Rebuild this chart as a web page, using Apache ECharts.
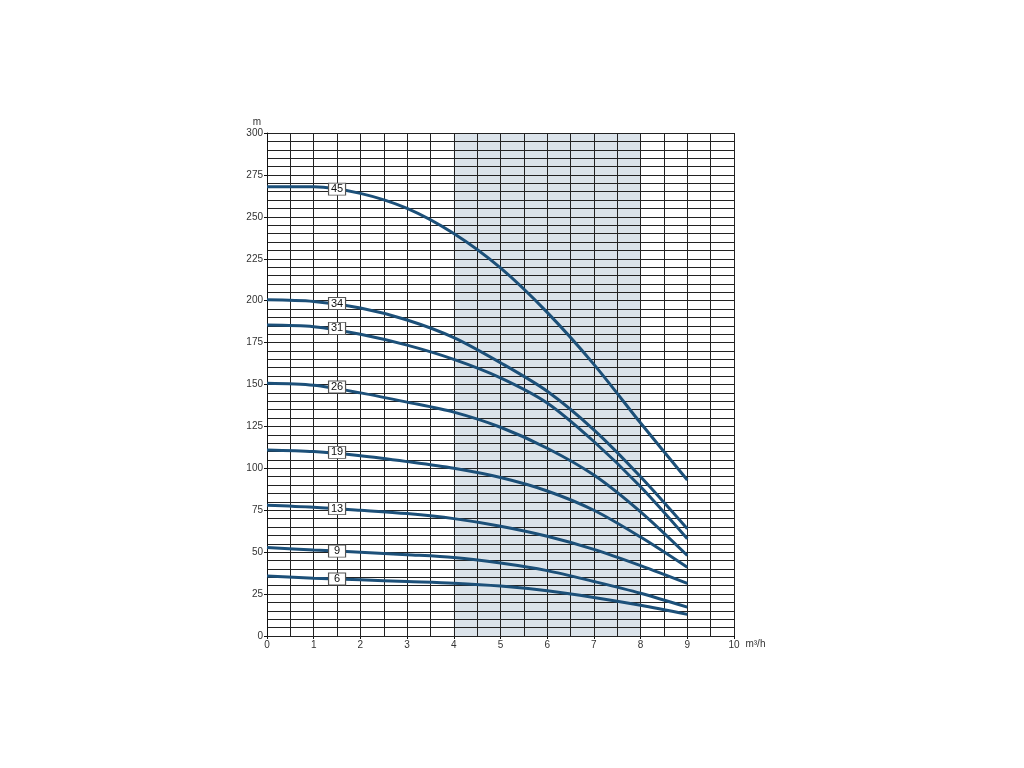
<!DOCTYPE html>
<html>
<head>
<meta charset="utf-8">
<script src="https://cdn.jsdelivr.net/npm/echarts@6/dist/echarts.min.js"></script>
<style>html,body{margin:0;padding:0;background:#fff}#c{width:1024px;height:768px}</style>
</head>
<body>
<div id="c"></div>
<script>
// flow (m³/h)
const flows = [0, 1, 2, 3, 4, 5, 6, 7, 8, 9];
// head (m) for each curve (stage count)
const names = ['45', '34', '31', '26', '19', '13', '9', '6'];
const c45 = [268, 268, 264, 255, 240, 219.5, 193, 162, 127, 93];
const c34 = [200.5, 199.5, 195.6, 188.5, 178, 163, 146, 123, 95, 64];
const c31 = [185.5, 184.5, 180, 173.5, 165, 154, 139, 116, 89, 58];
const c26 = [150.7, 149.5, 145, 139.5, 133.5, 124.5, 112, 96, 74, 48];
const c19 = [111, 110, 107.5, 104, 100, 94.5, 86.5, 75, 59, 41];
const c13 = [78, 76.8, 75, 73, 70, 65.5, 59.5, 51.7, 42, 31.4];
const c9 = [52.8, 51.3, 50, 48.5, 46.8, 43.5, 39, 32.5, 25.5, 17.2];
const c6 = [35.8, 34.5, 33.5, 32.5, 31.5, 29.8, 27, 23, 18.3, 12.9];
const curves = [c45, c34, c31, c26, c19, c13, c9, c6];
// label boxes: flow position and head
const labelFlow = 1.5;
const labelHead = [266.5, 198.3, 183.5, 148.5, 109.5, 76, 50.6, 34];
const xTicks = ['0','1','2','3','4','5','6','7','8','9','10'];
const yTicks = ['0','25','50','75','100','125','150','175','200','225','250','275','300'];
const bandStart = 4, bandEnd = 8;

const band = '#dbe3ea';
const areaColors = [];
for (let i = 0; i < 10; i++) areaColors.push(i >= bandStart && i < bandEnd ? band : 'rgba(0,0,0,0)');

const font = 'Liberation Sans Narrow, Liberation Sans, sans-serif';
const lineCol = '#1c5079';

const series = curves.map((arr, k) => ({
  type: 'line',
  name: names[k],
  data: flows.map((x, i) => [x, arr[i]]),
  smooth: 0.3,
  showSymbol: false,
  symbol: 'none',
  lineStyle: { color: lineCol, width: 3 },
  z: 3,
  markPoint: {
    symbol: 'rect',
    symbolSize: [17, 12],
    itemStyle: { color: '#fff', borderColor: '#555', borderWidth: 1 },
    label: { show: true, formatter: names[k], color: '#111', fontSize: 11, fontFamily: font, position: 'inside' },
    data: [{ coord: [labelFlow, labelHead[k]] }],
    animation: false
  }
}));

const chart = echarts.init(document.getElementById('c'));
chart.setOption({
  animation: false,
  backgroundColor: '#fff',
  grid: { left: 267, top: 133, width: 467, height: 503, containLabel: false },
  xAxis: {
    type: 'value', min: 0, max: 10, interval: 1, z: 0,
    name: 'm³/h', nameLocation: 'end', nameGap: 8,
    nameTextStyle: { color: '#333', fontSize: 10, fontFamily: font, verticalAlign: 'top', padding: [3, 0, 0, 0] },
    axisLine: { show: true, lineStyle: { color: '#111', width: 1 } },
    axisTick: { show: true, length: 3, lineStyle: { color: '#111' } },
    axisLabel: { color: '#333', fontSize: 10, fontFamily: font, margin: 4, formatter: (v) => xTicks[Math.round(v)] },
    splitLine: { show: true, lineStyle: { color: '#222', width: 1 } },
    minorTick: { show: false, splitNumber: 2 },
    minorSplitLine: { show: true, lineStyle: { color: '#222', width: 1 } },
    splitArea: { show: true, areaStyle: { color: areaColors } }
  },
  yAxis: {
    type: 'value', min: 0, max: 300, interval: 25, z: 1,
    name: 'm', nameLocation: 'end', nameGap: 6,
    nameTextStyle: { color: '#333', fontSize: 10, fontFamily: font, align: 'right', padding: [0, 6, 0, 0] },
    axisLine: { show: true, lineStyle: { color: '#111', width: 1 } },
    axisTick: { show: true, length: 3, lineStyle: { color: '#111' } },
    axisLabel: { color: '#333', fontSize: 10, fontFamily: font, margin: 4, formatter: (v) => yTicks[Math.round(v / 25)] },
    splitLine: { show: true, lineStyle: { color: '#222', width: 1 } },
    minorTick: { show: false, splitNumber: 5 },
    minorSplitLine: { show: true, lineStyle: { color: '#222', width: 1 } }
  },
  series: series
});
</script>
</body>
</html>
